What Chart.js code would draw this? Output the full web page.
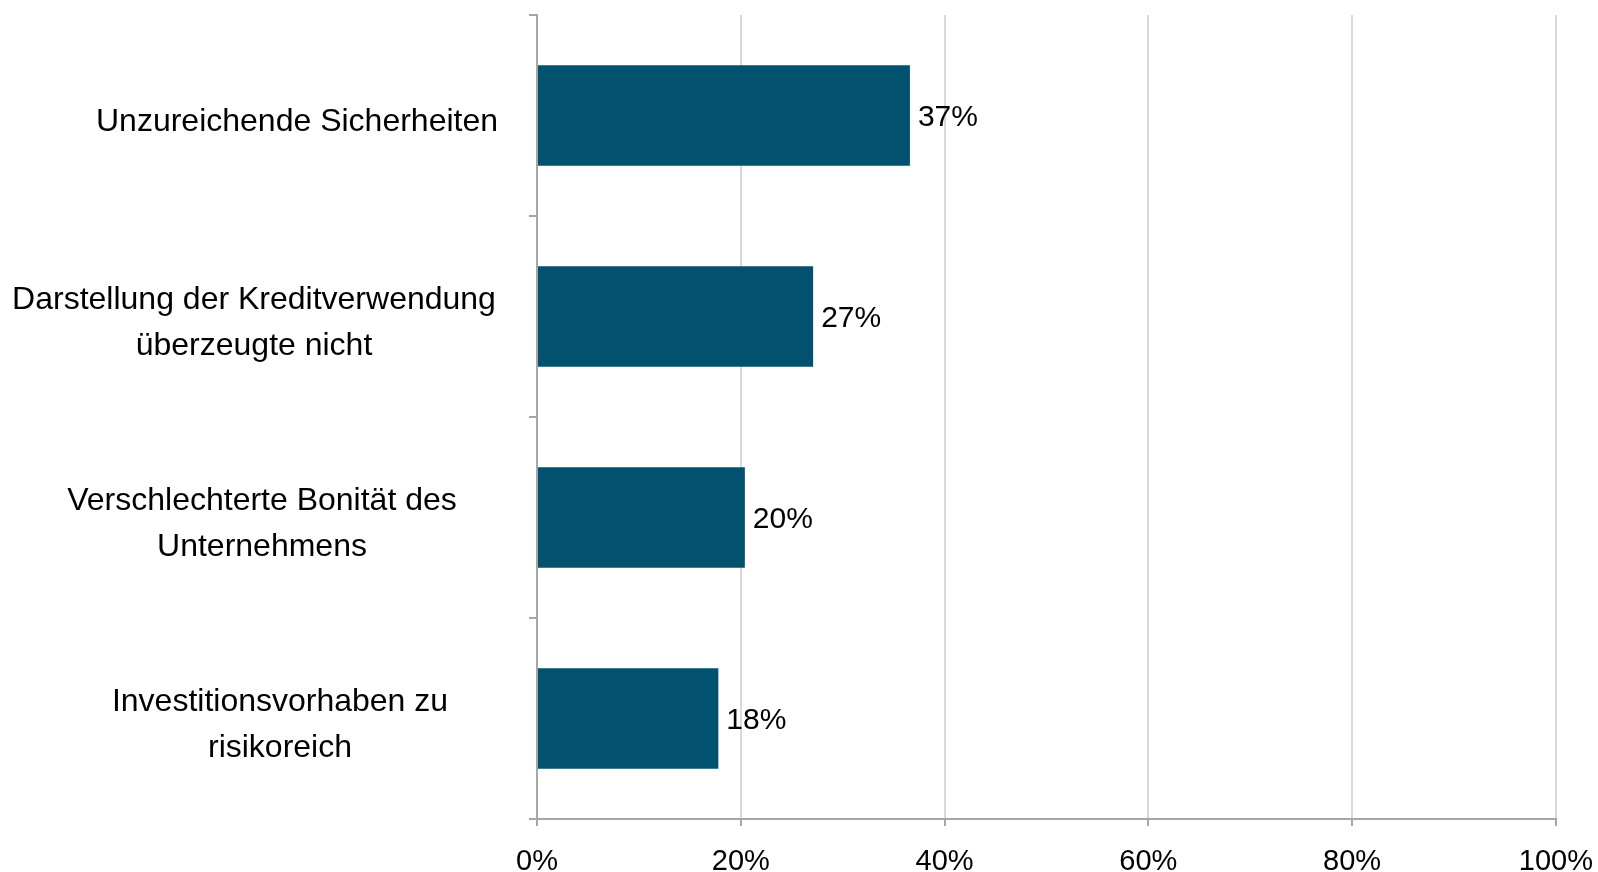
<!DOCTYPE html>
<html>
<head>
<meta charset="utf-8">
<script src="https://cdn.jsdelivr.net/npm/chart.js@4"></script>
<style>
  html, body { margin: 0; padding: 0; background: #fff; }
  #wrap { width: 1598px; height: 872px; }
</style>
</head>
<body>
<div id="wrap"><canvas id="chart"></canvas></div>
<script>
// categories (top to bottom), wrapped as in the original
const categories = [
    ['Unzureichende Sicherheiten'],
    ['Darstellung der Kreditverwendung', 'überzeugte nicht'],
    ['Verschlechterte Bonität des', 'Unternehmens'],
    ['Investitionsvorhaben zu', 'risikoreich']
];
// share of companies, in percent
const shares = [36.6, 27.1, 20.4, 17.8];
const shareLabels = ['37%', '27%', '20%', '18%'];

// horizontal centre of each wrapped category label (layout only)
const labelCenters = [297, 254, 262, 280];

const FONT = '"Liberation Sans", Arial, sans-serif';
const AXIS_GREY = '#a6a6a6';

// draws value labels next to the bars and the wrapped category labels
const textPlugin = {
    id: 'textPlugin',
    afterDatasetsDraw(chart) {
        const ctx = chart.ctx;
        const meta = chart.getDatasetMeta(0);
        const yScale = chart.scales.y;
        ctx.save();
        ctx.fillStyle = '#000';
        ctx.textBaseline = 'middle';

        ctx.font = '30px ' + FONT;
        ctx.textAlign = 'left';
        meta.data.forEach((bar, i) => {
            ctx.fillText(shareLabels[i], bar.x + 8, bar.y + 2);
        });

        ctx.font = '32px ' + FONT;
        ctx.textAlign = 'center';
        categories.forEach((lines, i) => {
            const yc = yScale.getPixelForValue(i) + 7;
            lines.forEach((line, j) => {
                ctx.fillText(line, labelCenters[i], yc + (j - (lines.length - 1) / 2) * 46);
            });
        });
        ctx.restore();
    }
};

const ctx = document.getElementById('chart').getContext('2d');
const chart = new Chart(ctx, {
    type: 'bar',
    data: {
        labels: categories,
        datasets: [{
            data: shares,
            backgroundColor: '#02516e',
            borderWidth: 0,
            barPercentage: 0.5,
            categoryPercentage: 1.0
        }]
    },
    options: {
        indexAxis: 'y',
        responsive: true,
        maintainAspectRatio: false,
        animation: false,
        layout: {
            padding: { left: 529, right: 0, top: 15, bottom: -25 }
        },
        plugins: {
            legend: { display: false },
            tooltip: { enabled: false }
        },
        scales: {
            x: {
                min: 0,
                max: 100,
                ticks: {
                    stepSize: 20,
                    callback: v => v + '%',
                    color: '#000',
                    padding: 5,
                    font: { family: FONT, size: 29, lineHeight: 2.1 }
                },
                grid: {
                    color: '#d9d9d9',
                    lineWidth: 2,
                    tickColor: AXIS_GREY,
                    tickLength: 7
                },
                border: { color: AXIS_GREY, width: 2 }
            },
            y: {
                ticks: { display: false },
                grid: {
                    drawOnChartArea: false,
                    offset: true,
                    color: AXIS_GREY,
                    lineWidth: 2,
                    tickLength: 8
                },
                border: { color: AXIS_GREY, width: 2 }
            }
        }
    },
    plugins: [textPlugin]
});
</script>
</body>
</html>
